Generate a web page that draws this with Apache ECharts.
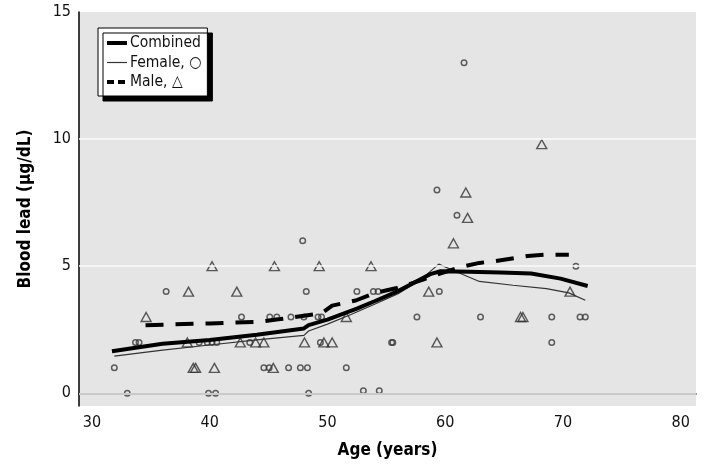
<!DOCTYPE html>
<html>
<head>
<meta charset="utf-8">
<script src="https://cdn.jsdelivr.net/npm/echarts@6/dist/echarts.min.js"></script>
<style>html,body{margin:0;padding:0;background:#fff}#c{width:710px;height:467px}</style>
</head>
<body>
<div id="c"></div>
<script>
// Tick labels
const xTicks = [30, 40, 50, 60, 70, 80];
const yTicks = [0, 5, 10, 15];
const gridYs = [0, 5, 10];

// Smoothed trend lines [age, blood lead]
const combinedLine = [[31.7,1.65],[36,1.95],[40,2.1],[44,2.3],[48,2.55],[48.4,2.68],[50,2.9],[52.5,3.33],[54,3.62],[56,4.02],[58.8,4.7],[59.6,4.8],[62,4.78],[64.7,4.75],[67.3,4.71],[69.8,4.51],[72.1,4.22]];
const femaleLine = [[31.9,1.46],[36,1.7],[40,1.9],[44,2.1],[48,2.28],[48.4,2.45],[50,2.72],[52,3.1],[54,3.5],[56,3.92],[58,4.5],[59.45,5.08],[60.9,4.79],[62.9,4.4],[65.75,4.25],[68.6,4.12],[70.5,3.95],[71.9,3.66]];
const maleLine = [[34.55,2.68],[40,2.75],[44.2,2.81],[46,2.92],[48,3.05],[49.5,3.15],[50.4,3.45],[52.4,3.65],[54,3.94],[55.8,4.13],[58,4.45],[59.5,4.7],[61.3,4.97],[62.9,5.13],[64.3,5.2],[67,5.4],[68.4,5.45],[70.5,5.45]];

// Individual observations
const femalePts = [[31.9,1],[33.0,0],[33.7,2],[34.0,2],[36.3,4],[39.1,2],[39.8,2],[40.2,2],[40.6,2],[39.9,0],[40.5,0],[42.7,3],[43.4,2],[44.6,1],[45.05,1],[45.1,3],[45.7,3],[46.7,1],[46.9,3],[47.7,1],[47.9,6],[48.0,3],[48.2,4],[48.3,1],[48.4,0],[49.2,3],[49.4,2],[49.5,3],[51.6,1],[52.5,4],[53.05,0.1],[53.9,4],[54.3,4],[54.4,0.1],[55.45,2],[55.55,2],[57.6,3],[59.3,8],[59.5,4],[61.0,7],[61.6,13],[63.0,3],[69.05,3],[69.05,2],[71.1,5],[71.45,3],[71.9,3]];
const malePts = [[34.6,3],[38.1,2],[38.2,4],[38.6,1],[38.8,1],[40.2,5],[40.4,1],[42.3,4],[42.6,2],[43.9,2],[44.6,2],[45.4,1],[45.5,5],[48.05,2],[49.3,5],[49.7,2],[50.4,2],[51.6,3],[53.7,5],[58.6,4],[59.3,2],[60.7,5.9],[61.75,7.9],[61.9,6.9],[66.4,3],[66.6,3],[68.2,9.8],[70.6,4]];

const FONT = '"DejaVu Sans", sans-serif';
const STRETCH = 'condensed';

const chart = echarts.init(document.getElementById('c'), null, {renderer: 'canvas'});
chart.setOption({
  animation: false,
  textStyle: {fontFamily: FONT},
  grid: {left: 79, right: 14, top: 12, bottom: 61, show: true, backgroundColor: '#e5e5e5', borderWidth: 0},
  legend: {
    left: 98, top: 28, orient: 'vertical',
    backgroundColor: '#fff', borderColor: '#000', borderWidth: 1,
    shadowColor: '#000', shadowBlur: 0, shadowOffsetX: 5, shadowOffsetY: 5,
    padding: [7, 6, 6, 7], itemGap: 3.5, itemWidth: 20, itemHeight: 14,
    itemStyle: {opacity: 0},
    textStyle: {fontFamily: FONT, fontWeight: STRETCH, fontSize: 15.5, color: '#111', padding: [0, 0, 0, -2]},
    data: [
      {name: 'Combined', lineStyle: {width: 4}},
      {name: 'Female, \u25CB', lineStyle: {width: 1.2}},
      {name: 'Male, \u25B3', lineStyle: {width: 4, type: [7, 4]}}
    ]
  },
  xAxis: {
    type: 'value', min: 28.9, max: 81.3,
    name: 'Age (years)', nameLocation: 'middle', nameGap: 36,
    nameTextStyle: {fontFamily: FONT, fontSize: 17, fontWeight: STRETCH + ' bold', color: '#000'},
    axisLine: {show: true, lineStyle: {color: '#000', width: 1.5}},
    axisTick: {show: false},
    splitLine: {show: false},
    axisLabel: {customValues: xTicks, fontSize: 16, color: '#111', margin: 9, fontFamily: FONT, fontWeight: STRETCH}
  },
  yAxis: {
    type: 'value', min: -0.5, max: 15,
    name: 'Blood lead (\u03BCg/dL)', nameLocation: 'middle', nameGap: 45,
    nameTextStyle: {fontFamily: FONT, fontSize: 17, fontWeight: STRETCH + ' bold', color: '#000'},
    axisLine: {show: true, lineStyle: {color: '#000', width: 1.5}},
    axisTick: {show: false},
    splitLine: {show: false},
    axisLabel: {customValues: yTicks, fontSize: 16, color: '#111', margin: 8, fontFamily: FONT, fontWeight: STRETCH}
  },
  series: [
    {
      name: 'grid', type: 'scatter', data: [[30, 0]], symbolSize: 0, silent: true, z: 1,
      markLine: {
        silent: true, symbol: 'none', label: {show: false},
        lineStyle: {color: '#fafafa', width: 1.5, type: 'solid'},
        data: gridYs.map(v => ({yAxis: v}))
      }
    },
    {
      name: 'Female pts', type: 'scatter', data: femalePts, symbol: 'circle', symbolSize: 5.5, z: 3,
      itemStyle: {color: 'rgba(0,0,0,0)', borderColor: '#3a3a3a', borderWidth: 1.5}
    },
    {
      name: 'Male pts', type: 'scatter', data: malePts, symbol: 'triangle', symbolSize: [10, 9], z: 3,
      itemStyle: {color: 'rgba(0,0,0,0)', borderColor: '#333', borderWidth: 1.4}
    },
    {
      name: 'Female, \u25CB', type: 'line', data: femaleLine, symbol: 'none', z: 4,
      lineStyle: {color: '#333', width: 1.2}, itemStyle: {color: '#333'}
    },
    {
      name: 'Combined', type: 'line', data: combinedLine, symbol: 'none', z: 5,
      lineStyle: {color: '#000', width: 4}, itemStyle: {color: '#000'}
    },
    {
      name: 'Male, \u25B3', type: 'line', data: maleLine, symbol: 'none', z: 5,
      lineStyle: {color: '#000', width: 4, type: [18, 12]}, itemStyle: {color: '#000'}
    }
  ]
});
</script>
</body>
</html>
